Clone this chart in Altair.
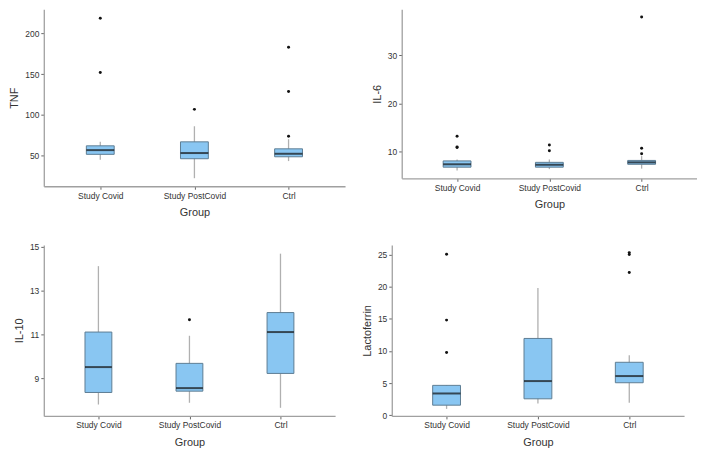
import altair as alt
import pandas as pd

groups = ["Study Covid", "Study PostCovid", "Ctrl"]

# TNF
tnf_lo = [44.7, 21.9, 43.0]
tnf_q1 = [51.3, 45.9, 48.3]
tnf_med = [56.5, 52.9, 52.0]
tnf_q3 = [61.8, 66.7, 58.1]
tnf_hi = [66.7, 85.9, 70.0]
tnf_out_group = ["Study Covid", "Study Covid", "Study PostCovid", "Ctrl", "Ctrl", "Ctrl"]
tnf_out_value = [219.0, 152.0, 106.7, 183.3, 128.7, 73.6]

# IL-6
il6_lo = [6.1, 6.4, 6.5]
il6_q1 = [6.8, 6.8, 7.4]
il6_med = [7.4, 7.3, 7.8]
il6_q3 = [8.1, 7.8, 8.2]
il6_hi = [8.4, 8.4, 9.1]
il6_out_group = ["Study Covid", "Study Covid", "Study Covid", "Study PostCovid", "Study PostCovid", "Ctrl", "Ctrl", "Ctrl"]
il6_out_value = [13.2, 11.0, 10.9, 11.4, 10.2, 37.9, 10.7, 9.6]

# IL-10
il10_lo = [7.79, 7.87, 7.64]
il10_q1 = [8.34, 8.40, 9.21]
il10_med = [9.50, 8.54, 11.10]
il10_q3 = [11.10, 9.67, 11.99]
il10_hi = [14.11, 10.93, 14.68]
il10_out_group = ["Study PostCovid"]
il10_out_value = [11.66]

# Lactoferrin
lac_lo = [0.99, 1.83, 1.93]
lac_q1 = [1.57, 2.56, 5.06]
lac_med = [3.39, 5.32, 6.10]
lac_q3 = [4.65, 11.95, 8.24]
lac_hi = [4.70, 19.80, 9.34]
lac_out_group = ["Study Covid", "Study Covid", "Study Covid", "Ctrl", "Ctrl", "Ctrl"]
lac_out_value = [25.05, 14.8, 9.76, 25.3, 25.0, 22.2]

BOX_FILL = "#89c6f2"
BOX_STROKE = "#5e7d93"
WHISKER = "#b0b0b0"


def panel(title, lo, q1, med, q3, hi, og, ov, domain, ticks, width, height):
    stats = pd.DataFrame({"Group": groups, "lo": lo, "q1": q1, "med": med, "q3": q3, "hi": hi})
    outs = pd.DataFrame({"Group": og, "v": ov})
    step = width / 3.2
    bw = round(0.3 * step)
    x = alt.X("Group:N", sort=groups, title="Group",
              scale=alt.Scale(type="point", padding=0.6, domain=groups),
              axis=alt.Axis(labelAngle=0, titlePadding=7))
    yscale = alt.Scale(domain=domain, nice=False, zero=False)
    yaxis = alt.Axis(values=ticks, title=title, titlePadding=5)
    base = alt.Chart(stats)
    whisk = base.mark_rule(color=WHISKER, strokeWidth=1.3).encode(
        x=x, y=alt.Y("lo:Q", scale=yscale, axis=yaxis), y2="hi:Q")
    box = base.mark_bar(fill=BOX_FILL, stroke=BOX_STROKE, strokeWidth=1, size=bw).encode(
        x=x, y=alt.Y("q1:Q", scale=yscale, axis=yaxis), y2="q3:Q")
    median = base.mark_tick(color="#111111", thickness=2, size=bw).encode(
        x=x, y=alt.Y("med:Q", scale=yscale, axis=yaxis))
    pts = alt.Chart(outs).mark_circle(color="#111111", size=9, opacity=1).encode(
        x=x, y=alt.Y("v:Q", scale=yscale, axis=yaxis))
    return alt.layer(whisk, box, median, pts).properties(width=width, height=height)


p1 = panel("TNF", tnf_lo, tnf_q1, tnf_med, tnf_q3, tnf_hi, tnf_out_group, tnf_out_value,
           [12, 230], [50, 100, 150, 200], 303, 178)
p2 = panel("IL-6", il6_lo, il6_q1, il6_med, il6_q3, il6_hi, il6_out_group, il6_out_value,
           [4.5, 39.5], [10, 20, 30], 297, 170)
p3 = panel("IL-10", il10_lo, il10_q1, il10_med, il10_q3, il10_hi, il10_out_group, il10_out_value,
           [7.27, 15.08], [9, 11, 13, 15], 293, 172)
p4 = panel("Lactoferrin", lac_lo, lac_q1, lac_med, lac_q3, lac_hi, lac_out_group, lac_out_value,
           [-0.1, 26.5], [0, 5, 10, 15, 20, 25], 294, 172)

chart = alt.vconcat(
    alt.hconcat(p1, p2, spacing=26),
    alt.hconcat(p3, p4, spacing=26),
    spacing=24,
).properties(
    padding={"left": 0, "top": 0, "right": 0, "bottom": 0}
).configure_view(stroke=None).configure_axis(
    grid=False,
    domainColor="#a0a0a0",
    domainWidth=1.3,
    tickColor="#666666",
    tickSize=3,
    labelPadding=2,
    labelFont="Liberation Sans",
    labelFontSize=8.5,
    labelColor="#333333",
    titleFont="Liberation Sans",
    titleFontSize=11,
    titleFontWeight="normal",
    titleColor="#333333",
)

chart.save("out.html", embed_options={"renderer": "svg", "actions": False})
